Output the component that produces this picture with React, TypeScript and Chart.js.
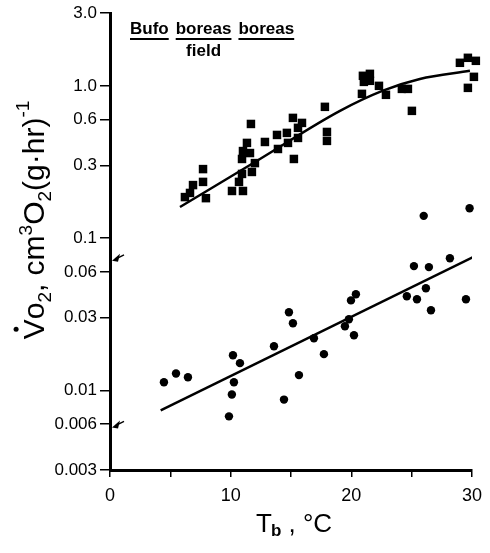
import React, { useEffect, useRef } from "react";
import { Chart, registerables } from "chart.js";

Chart.register(...registerables);

// Upper group (squares)
const squareX = [6.21, 6.63, 6.88, 7.71, 7.71, 7.95, 10.11, 11.02, 10.69, 10.94, 11.68, 11.35, 11.02, 11.6, 10.94, 12.01, 11.76, 12.84, 13.84, 13.92, 14.66, 14.75, 15.16, 15.24, 15.58, 15.58, 15.91, 17.81, 17.98, 17.98, 20.88, 20.96, 21.54, 21.04, 21.54, 22.29, 22.87, 24.19, 24.69, 25.02, 29.0, 29.66, 30.32, 30.99, 30.16, 29.66];
const squareY = [0.186, 0.198, 0.223, 0.284, 0.234, 0.183, 0.204, 0.204, 0.234, 0.264, 0.562, 0.422, 0.373, 0.362, 0.331, 0.311, 0.272, 0.428, 0.476, 0.385, 0.491, 0.422, 0.616, 0.331, 0.455, 0.53, 0.571, 0.728, 0.498, 0.435, 0.886, 1.164, 1.199, 1.062, 1.079, 1.0, 0.873, 0.955, 0.955, 0.685, 1.417, 1.528, 1.46, 1.374, 1.146, 0.97];

// Lower group (circles)
const circleX = [4.47, 5.47, 6.46, 9.86, 10.1, 10.27, 10.19, 10.77, 13.59, 14.42, 14.83, 15.16, 15.66, 16.9, 17.73, 19.47, 19.8, 20.22, 19.97, 20.38, 24.6, 25.19, 25.44, 26.18, 26.43, 26.6, 26.0, 28.17, 29.5, 29.8];
const circleY = [0.0113, 0.0129, 0.0122, 0.00675, 0.0094, 0.0113, 0.017, 0.0151, 0.0195, 0.0087, 0.0326, 0.0276, 0.0126, 0.022, 0.0173, 0.0264, 0.0293, 0.023, 0.039, 0.0428, 0.0415, 0.0655, 0.0397, 0.0469, 0.0645, 0.0336, 0.14, 0.0738, 0.0397, 0.157];

// Fitted curves
const upperFitX = [5.8, 12.43, 19.06, 22.62, 25.68, 29.83];
const upperFitY = [0.16, 0.331, 0.685, 0.93, 1.11, 1.255];
const lowerFitX = [4.2, 30.1];
const lowerFitY = [0.0074, 0.075];

// Axis ticks
const yTickValues = [3.0, 1.0, 0.6, 0.3, 0.1, 0.06, 0.03, 0.01, 0.006, 0.003];
const yTickLabels = ["3.0", "1.0", "0.6", "0.3", "0.1", "0.06", "0.03", "0.01", "0.006", "0.003"];
const xTickLabeled = [0, 10, 20, 30];

// Arrow markers on the y axis
const arrowValues = [0.072, 0.0058];

const titleWords = ["Bufo", "boreas", "boreas"];
const subTitle = "field";

const FONT = "'Liberation Sans', Arial, sans-serif";

const toPts = (xs: number[], ys: number[]) => xs.map((x, i) => ({ x, y: ys[i] }));

const decorPlugin = {
  id: "decor",
  afterDraw(chart: any) {
    const ctx = chart.ctx as CanvasRenderingContext2D;
    const xs = chart.scales.x;
    const ys = chart.scales.y;
    ctx.save();
    ctx.fillStyle = "#000";
    ctx.strokeStyle = "#000";

    // arrows
    const x0 = xs.getPixelForValue(0);
    arrowValues.forEach((v) => {
      const py = ys.getPixelForValue(v);
      const tipX = x0 + 2;
      const tipY = py + 1;
      ctx.lineWidth = 1.5;
      ctx.beginPath();
      ctx.moveTo(tipX + 4, tipY - 2);
      ctx.lineTo(tipX + 12, tipY - 6);
      ctx.stroke();
      ctx.beginPath();
      ctx.moveTo(tipX, tipY);
      ctx.lineTo(tipX + 8, tipY - 7);
      ctx.lineTo(tipX + 6, tipY + 1);
      ctx.closePath();
      ctx.fill();
    });

    // title
    ctx.font = `bold 17px ${FONT}`;
    ctx.textBaseline = "alphabetic";
    ctx.textAlign = "left";
    let tx = 130;
    const ty = 34;
    const space = 7;
    const wordPos: number[][] = [];
    titleWords.forEach((w) => {
      const wd = ctx.measureText(w).width;
      ctx.fillText(w, tx, ty);
      ctx.fillRect(tx, ty + 4, wd, 2);
      wordPos.push([tx, wd]);
      tx += wd + space;
    });
    const [bx, bw] = wordPos[1];
    ctx.textAlign = "center";
    ctx.fillText(subTitle, bx + bw / 2, ty + 22);

    // x axis title
    ctx.textAlign = "left";
    let cx = 256;
    const cy = 532;
    ctx.font = `26px ${FONT}`;
    ctx.fillText("T", cx, cy);
    cx += ctx.measureText("T").width - 1;
    ctx.font = `bold 17px ${FONT}`;
    ctx.fillText("b", cx, cy + 4);
    cx += ctx.measureText("b").width;
    ctx.font = `26px ${FONT}`;
    ctx.fillText(" , °C", cx, cy);

    // y axis title (rotated)
    ctx.translate(44, 220);
    ctx.rotate(-Math.PI / 2);
    const big = 30;
    const small = 19;
    const segs: { t: string; s: number; dy: number }[] = [
      { t: "V", s: big, dy: 0 },
      { t: "o", s: big, dy: 0 },
      { t: "2", s: small, dy: 7 },
      { t: ", cm", s: big, dy: 0 },
      { t: "3", s: small, dy: -12 },
      { t: "O", s: big, dy: 0 },
      { t: "2", s: small, dy: 7 },
      { t: "(g·hr)", s: big, dy: 0 },
      { t: "-1", s: small, dy: -15 },
    ];
    let total = 0;
    segs.forEach((sg) => {
      ctx.font = `${sg.s}px ${FONT}`;
      total += ctx.measureText(sg.t).width;
    });
    let px = -total / 2;
    segs.forEach((sg, i) => {
      ctx.font = `${sg.s}px ${FONT}`;
      const w = ctx.measureText(sg.t).width;
      ctx.fillText(sg.t, px, sg.dy);
      if (i === 0) {
        ctx.beginPath();
        ctx.arc(px + w / 2, -big * 0.93, 2.5, 0, Math.PI * 2);
        ctx.fill();
      }
      px += w;
    });
    ctx.restore();
  },
};

export default function App() {
  const ref = useRef<HTMLCanvasElement | null>(null);
  useEffect(() => {
    if (!ref.current) return;
    const chart = new Chart(ref.current, {
      type: "scatter",
      data: {
        datasets: [
          {
            label: "squares",
            data: toPts(squareX, squareY),
            pointStyle: "rect",
            pointRadius: 6,
            backgroundColor: "#000",
            borderColor: "#000",
            borderWidth: 0,
            clip: false as any,
          },
          {
            label: "circles",
            data: toPts(circleX, circleY),
            pointStyle: "circle",
            pointRadius: 4.2,
            backgroundColor: "#000",
            borderColor: "#000",
            borderWidth: 0,
            clip: false as any,
          },
          {
            type: "line" as any,
            label: "upper fit",
            data: toPts(upperFitX, upperFitY),
            showLine: true,
            pointRadius: 0,
            borderColor: "#000",
            borderWidth: 2.5,
            cubicInterpolationMode: "monotone",
            fill: false,
          } as any,
          {
            type: "line" as any,
            label: "lower fit",
            data: toPts(lowerFitX, lowerFitY),
            showLine: true,
            pointRadius: 0,
            borderColor: "#000",
            borderWidth: 2.5,
            fill: false,
          } as any,
        ],
      },
      options: {
        animation: false,
        responsive: false,
        maintainAspectRatio: false,
        layout: { padding: { top: 13, right: 18, left: 0, bottom: 0 } },
        plugins: { legend: { display: false }, tooltip: { enabled: false } },
        scales: {
          x: {
            type: "linear",
            min: 0,
            max: 30,
            afterFit: (s: any) => {
              s.height = 83;
            },
            ticks: {
              stepSize: 5,
              autoSkip: false,
              maxRotation: 0,
              color: "#000",
              padding: 8,
              font: { family: FONT, size: 18 },
              callback: (v: any) => (xTickLabeled.includes(Number(v)) ? String(v) : ""),
            },
            grid: {
              display: true,
              drawOnChartArea: false,
              drawTicks: true,
              tickLength: 7,
              color: "#000",
              lineWidth: 1.5,
            },
            border: { display: true, color: "#000", width: 3 },
          },
          y: {
            type: "logarithmic",
            min: 0.003,
            max: 3.0,
            afterFit: (s: any) => {
              s.width = 110;
            },
            afterBuildTicks: (s: any) => {
              s.ticks = yTickValues.map((v) => ({ value: v }));
            },
            ticks: {
              autoSkip: false,
              color: "#000",
              padding: 3,
              font: { family: FONT, size: 17 },
              callback: (v: any) => {
                const i = yTickValues.findIndex((t) => Math.abs(t - Number(v)) / t < 1e-6);
                return i >= 0 ? yTickLabels[i] : "";
              },
            },
            grid: {
              display: true,
              drawOnChartArea: false,
              drawTicks: true,
              tickLength: 10,
              color: "#000",
              lineWidth: 1.5,
            },
            border: { display: true, color: "#000", width: 3 },
          },
        },
      },
      plugins: [decorPlugin],
    });
    return () => chart.destroy();
  }, []);
  return (
    <div style={{ position: "absolute", left: 0, top: 0, width: 490, height: 553, background: "#fff" }}>
      <canvas ref={ref} width={490} height={553} style={{ width: 490, height: 553, display: "block" }} />
    </div>
  );
}
